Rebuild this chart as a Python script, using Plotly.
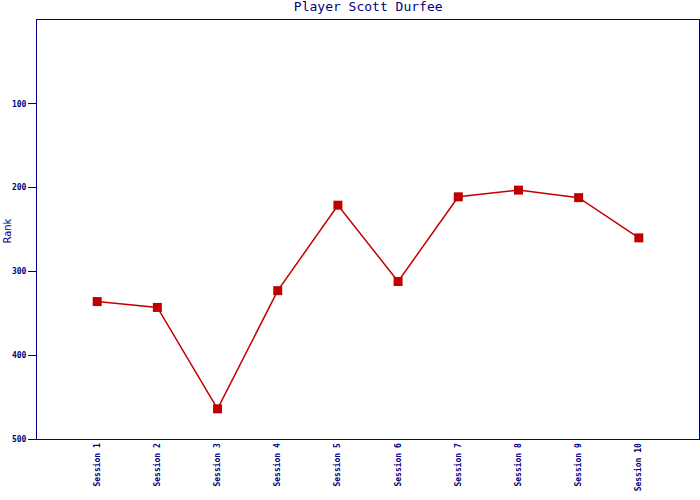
import plotly.graph_objects as go

sessions = ["Session 1", "Session 2", "Session 3", "Session 4", "Session 5",
            "Session 6", "Session 7", "Session 8", "Session 9", "Session 10"]
ranks = [336, 343, 464, 323, 221, 312, 211, 203, 212, 260]
y_ticks = [100, 200, 300, 400, 500]

navy = "#000080"
red = "#C00000"

fig = go.Figure()
fig.add_trace(go.Scatter(
    x=sessions, y=ranks, mode="lines+markers",
    line=dict(color=red, width=1.5),
    marker=dict(symbol="square", size=9, color=red),
    showlegend=False,
))

fig.update_layout(
    width=700, height=500,
    margin=dict(l=37, r=1, t=20, b=61, autoexpand=False),
    paper_bgcolor="white", plot_bgcolor="white",
    title=dict(text="Player Scott Durfee", x=0.526, xanchor="center", y=0.997, yanchor="top",
               font=dict(family="DejaVu Sans Mono", size=13, color=navy)),
)
fig.add_annotation(text="Rank", xref="paper", yref="paper", x=-0.0438, y=0.495,
                   xanchor="center", yanchor="middle", textangle=-90, showarrow=False,
                   font=dict(family="DejaVu Sans", size=10, color=navy))
fig.update_xaxes(
    type="category", range=[-1, 10], automargin=False,
    showline=True, linecolor=navy, linewidth=1, mirror=True,
    showgrid=False, zeroline=False, ticks="",
    tickangle=-90,
    tickfont=dict(family="DejaVu Sans Mono", size=8, color=navy, weight="bold"),
)
fig.update_yaxes(
    range=[500, 0], tickvals=y_ticks, automargin=False,
    showline=True, linecolor=navy, linewidth=1, mirror=True,
    showgrid=False, zeroline=False, ticks="outside", ticklen=8, tickcolor=navy,
    tickfont=dict(family="DejaVu Sans Mono", size=8, color=navy, weight="bold"),
)

post = ("document.body.style.margin='0';document.body.style.overflow='hidden';"
        "var gd=document.getElementById('{plot_id}');"
        "Plotly.relayout(gd,{width:700,height:500});")
fig.write_html("out.html", config={"responsive": False, "displayModeBar": False}, post_script=post)
